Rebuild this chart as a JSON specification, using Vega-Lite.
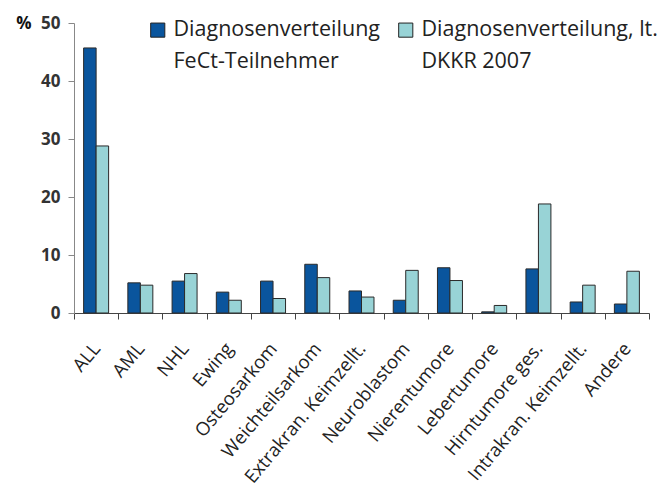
{
  "$schema": "https://vega.github.io/schema/vega-lite/v6.json",
  "autosize": "none",
  "padding": {"left": 74, "top": 23, "right": 15, "bottom": 189},
  "width": 575,
  "height": 290,
  "config": {
    "view": {"stroke": null},
    "font": "Open Sans"
  },
  "data": {
    "values": [
      {"Diagnose": "ALL", "Serie": "FeCt", "Wert": 45.7},
      {"Diagnose": "ALL", "Serie": "DKKR", "Wert": 28.8},
      {"Diagnose": "AML", "Serie": "FeCt", "Wert": 5.2},
      {"Diagnose": "AML", "Serie": "DKKR", "Wert": 4.8},
      {"Diagnose": "NHL", "Serie": "FeCt", "Wert": 5.5},
      {"Diagnose": "NHL", "Serie": "DKKR", "Wert": 6.8},
      {"Diagnose": "Ewing", "Serie": "FeCt", "Wert": 3.6},
      {"Diagnose": "Ewing", "Serie": "DKKR", "Wert": 2.2},
      {"Diagnose": "Osteosarkom", "Serie": "FeCt", "Wert": 5.5},
      {"Diagnose": "Osteosarkom", "Serie": "DKKR", "Wert": 2.5},
      {"Diagnose": "Weichteilsarkom", "Serie": "FeCt", "Wert": 8.4},
      {"Diagnose": "Weichteilsarkom", "Serie": "DKKR", "Wert": 6.1},
      {"Diagnose": "Extrakran. Keimzellt.", "Serie": "FeCt", "Wert": 3.8},
      {"Diagnose": "Extrakran. Keimzellt.", "Serie": "DKKR", "Wert": 2.75},
      {"Diagnose": "Neuroblastom", "Serie": "FeCt", "Wert": 2.2},
      {"Diagnose": "Neuroblastom", "Serie": "DKKR", "Wert": 7.35},
      {"Diagnose": "Nierentumore", "Serie": "FeCt", "Wert": 7.8},
      {"Diagnose": "Nierentumore", "Serie": "DKKR", "Wert": 5.6},
      {"Diagnose": "Lebertumore", "Serie": "FeCt", "Wert": 0.2},
      {"Diagnose": "Lebertumore", "Serie": "DKKR", "Wert": 1.3},
      {"Diagnose": "Hirntumore ges.", "Serie": "FeCt", "Wert": 7.6},
      {"Diagnose": "Hirntumore ges.", "Serie": "DKKR", "Wert": 18.8},
      {"Diagnose": "Intrakran. Keimzellt.", "Serie": "FeCt", "Wert": 1.9},
      {"Diagnose": "Intrakran. Keimzellt.", "Serie": "DKKR", "Wert": 4.8},
      {"Diagnose": "Andere", "Serie": "FeCt", "Wert": 1.55},
      {"Diagnose": "Andere", "Serie": "DKKR", "Wert": 7.2}
    ]
  },
  "mark": {"type": "bar", "stroke": "#2a2a2a", "strokeWidth": 1},
  "encoding": {
    "x": {
      "field": "Diagnose",
      "type": "nominal",
      "sort": null,
      "scale": {"paddingInner": 0, "paddingOuter": 0},
      "axis": {
        "title": null,
        "tickBand": "extent",
        "labelAngle": -50,
        "labelFontSize": 18.5,
        "labelColor": "#222",
        "labelPadding": 26,
        "domainColor": "#444",
        "tickColor": "#444",
        "tickSize": 6,
        "labelLimit": 400
      }
    },
    "xOffset": {
      "field": "Serie",
      "type": "nominal",
      "sort": ["FeCt", "DKKR"],
      "scale": {"paddingInner": 0, "paddingOuter": 0.77}
    },
    "y": {
      "field": "Wert",
      "type": "quantitative",
      "scale": {"domain": [0, 50]},
      "axis": {
        "values": [0, 10, 20, 30, 40, 50],
        "grid": false,
        "title": "%",
        "titleAngle": 0,
        "titleX": -43,
        "titleY": 0,
        "titleBaseline": "middle",
        "titleAlign": "right",
        "titleFontSize": 17,
        "titleFontWeight": "bold",
        "titleColor": "#111",
        "labelFontSize": 17,
        "labelFontWeight": "bold",
        "labelColor": "#333",
        "labelPadding": 8,
        "domainColor": "#888",
        "tickColor": "#888",
        "tickSize": 6
      }
    },
    "color": {
      "field": "Serie",
      "type": "nominal",
      "scale": {"domain": ["FeCt", "DKKR"], "range": ["#0a559d", "#98d3d6"]},
      "legend": {
        "title": null,
        "orient": "none",
        "legendX": 73,
        "legendY": -4,
        "direction": "horizontal",
        "columns": 2,
        "columnPadding": 14,
        "symbolType": "square",
        "symbolSize": 200,
        "symbolStrokeColor": "#222",
        "symbolStrokeWidth": 1,
        "labelFontSize": 21.5,
        "labelColor": "#222",
        "labelLimit": 400,
        "labelOffset": 5,
        "labelExpr": "datum.label == 'FeCt' ? ['Diagnosenverteilung', 'FeCt-Teilnehmer'] : ['Diagnosenverteilung, lt.', 'DKKR 2007']",
        "encode": {
          "labels": {"update": {"lineHeight": {"value": 32}}}
        }
      }
    }
  }
}
